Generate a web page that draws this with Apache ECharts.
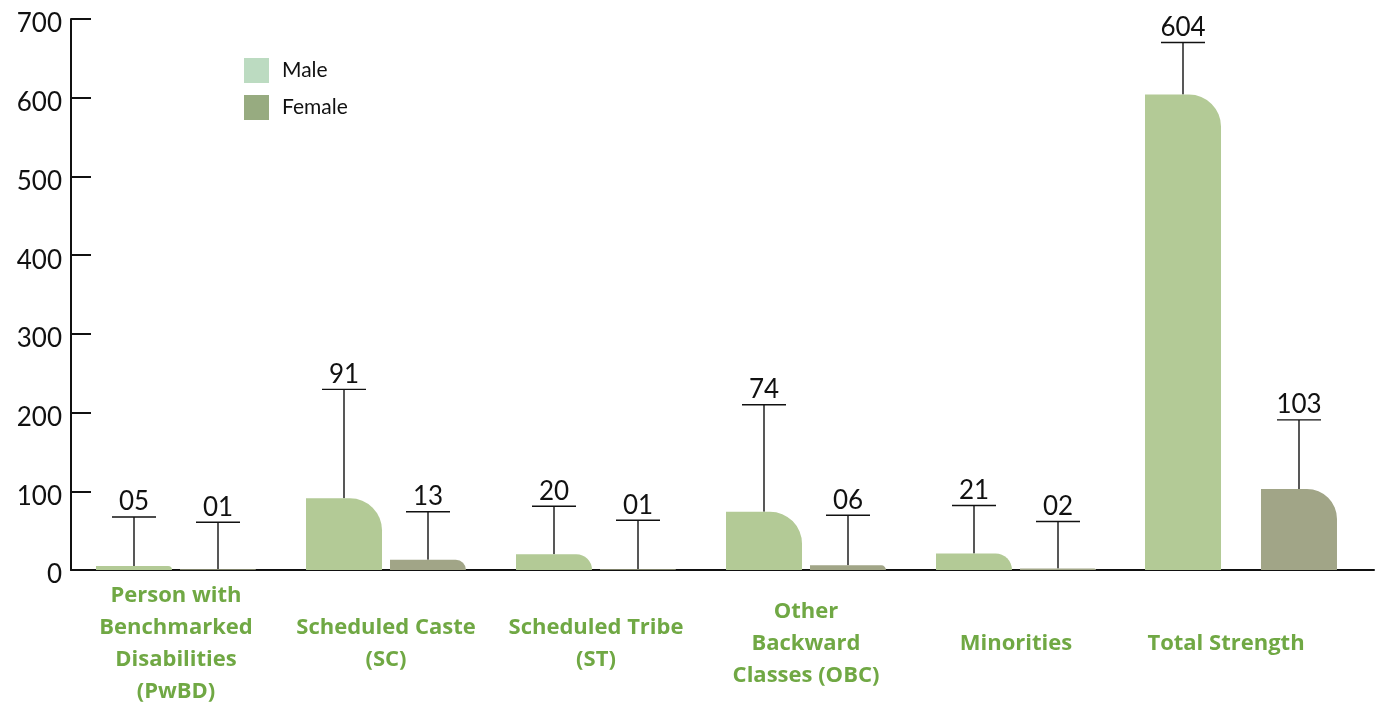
<!DOCTYPE html>
<html>
<head>
<meta charset="utf-8">
<script src="https://cdn.jsdelivr.net/npm/echarts@6/dist/echarts.min.js"></script>
<style>
  html, body { margin: 0; padding: 0; background: #fff; }
  #chart { width: 1376px; height: 704px; }
</style>
</head>
<body>
<div id="chart"></div>
<script>
// categories (wrapped the way the axis shows them)
const categories = [
  "Person with\nBenchmarked\nDisabilities\n(PwBD)",
  "Scheduled Caste\n(SC)",
  "Scheduled Tribe\n(ST)",
  "Other\nBackward\nClasses (OBC)",
  "Minorities",
  "Total Strength",
];
const male = [5, 91, 20, 74, 21, 604];
const female = [1, 13, 1, 6, 2, 103];
const yTicks = [0, 100, 200, 300, 400, 500, 600, 700];

// length of each callout stem above its bar, px
const maleStem = [49, 109, 48, 107, 48, 52];
const femaleStem = [47, 48, 49, 50, 47, 69];

const maleColor = "#b3ca96";
const femaleColor = "#a1a587";
const barW = 76;

const chart = echarts.init(document.getElementById("chart"));

const pad = (v) => String(v).padStart(2, "0");

// callout: stem from the bar top, a short bar line, the value above it
const callout = (offset) => (params, api) => {
  const p = api.coord([api.value(0), api.value(1)]);
  const x = p[0] + offset;
  const top = p[1] - api.value(2);
  const line = { stroke: "#111", lineWidth: 1.4 };
  return {
    type: "group",
    children: [
      { type: "line", shape: { x1: x, y1: p[1], x2: x, y2: top }, style: line },
      { type: "line", shape: { x1: x - 22, y1: top, x2: x + 22, y2: top }, style: line },
      {
        type: "text",
        x: x,
        y: top - 2,
        style: {
          text: pad(api.value(1)),
          align: "center",
          verticalAlign: "bottom",
          font: "26px Lato",
          fill: "#111",
        },
      },
    ],
  };
};

const main = 5; // first five groups share one spacing, the total sits apart
const catIdx = categories.map((_, i) => i);

const option = {
  animation: false,
  legend: {
    orient: "vertical",
    left: 244,
    top: 58,
    padding: 0,
    itemWidth: 25,
    itemHeight: 25,
    itemGap: 12,
    icon: "rect",
    textStyle: { fontFamily: "Lato", fontSize: 21, color: "#111", padding: [0, 0, 0, 8] },
    data: [
      { name: "Male", itemStyle: { color: "#bcdbc1" } },
      { name: "Female", itemStyle: { color: "#97ab80" } },
    ],
  },
  grid: [
    { left: 71, right: 45, top: 19, bottom: 134, outerBoundsMode: "none" },
    { left: 1108, right: 2, top: 19, bottom: 134, outerBoundsMode: "none" },
  ],
  xAxis: [
    {
      type: "category",
      gridIndex: 0,
      data: categories,
      axisLine: { lineStyle: { color: "#111", width: 2 } },
      axisTick: { show: false },
      axisLabel: {
        interval: 0,
        margin: 74,
        verticalAlign: "middle",
        fontFamily: "Open Sans",
        fontWeight: "bold",
        fontSize: 22,
        lineHeight: 32,
        color: "#70a844",
      },
    },
    {
      type: "category",
      gridIndex: 1,
      data: categories.slice(main),
      axisLine: { lineStyle: { color: "#111", width: 2 } },
      axisTick: { show: false },
      axisLabel: { show: false },
    },
  ],
  yAxis: [
    {
      type: "value",
      gridIndex: 0,
      min: yTicks[0],
      max: yTicks[yTicks.length - 1],
      interval: 100,
      splitLine: { show: false },
      axisLine: { show: true, lineStyle: { color: "#111", width: 2 } },
      axisTick: { show: true, inside: true, length: 20, lineStyle: { color: "#111", width: 2 } },
      axisLabel: {
        margin: 9,
        fontFamily: "Lato",
        fontSize: 26,
        color: "#111",
        verticalAlign: "top",
        lineHeight: 10,
      },
    },
    {
      type: "value",
      gridIndex: 1,
      min: yTicks[0],
      max: yTicks[yTicks.length - 1],
      show: false,
    },
  ],
  series: [
    {
      name: "Male",
      type: "bar",
      xAxisIndex: 0,
      yAxisIndex: 0,
      barWidth: barW,
      barGap: "10.5%",
      itemStyle: { color: maleColor, borderRadius: [0, 32, 0, 0] },
      data: male.map((v, i) => (i < main ? v : "-")),
    },
    {
      name: "Female",
      type: "bar",
      xAxisIndex: 0,
      yAxisIndex: 0,
      barWidth: barW,
      barGap: "10.5%",
      itemStyle: { color: femaleColor, borderRadius: [0, 32, 0, 0] },
      data: female.map((v, i) => (i < main ? v : "-")),
    },
    {
      name: "Male",
      type: "bar",
      xAxisIndex: 1,
      yAxisIndex: 1,
      barWidth: barW,
      barGap: "52.6%",
      itemStyle: { color: maleColor, borderRadius: [0, 32, 0, 0] },
      data: male.slice(main),
    },
    {
      name: "Female",
      type: "bar",
      xAxisIndex: 1,
      yAxisIndex: 1,
      barWidth: barW,
      barGap: "52.6%",
      itemStyle: { color: femaleColor, borderRadius: [0, 30, 0, 0] },
      data: female.slice(main),
    },
    {
      type: "custom",
      xAxisIndex: 0,
      yAxisIndex: 0,
      clip: false,
      renderItem: callout(-42),
      data: catIdx.slice(0, main).map((i) => [i, male[i], maleStem[i]]),
    },
    {
      type: "custom",
      xAxisIndex: 0,
      yAxisIndex: 0,
      clip: false,
      renderItem: callout(42),
      data: catIdx.slice(0, main).map((i) => [i, female[i], femaleStem[i]]),
    },
    {
      type: "custom",
      xAxisIndex: 1,
      yAxisIndex: 1,
      clip: false,
      renderItem: callout(-58),
      data: catIdx.slice(main).map((i) => [i - main, male[i], maleStem[i]]),
    },
    {
      type: "custom",
      xAxisIndex: 1,
      yAxisIndex: 1,
      clip: false,
      renderItem: callout(58),
      data: catIdx.slice(main).map((i) => [i - main, female[i], femaleStem[i]]),
    },
  ],
};

chart.setOption(option);
</script>
</body>
</html>
